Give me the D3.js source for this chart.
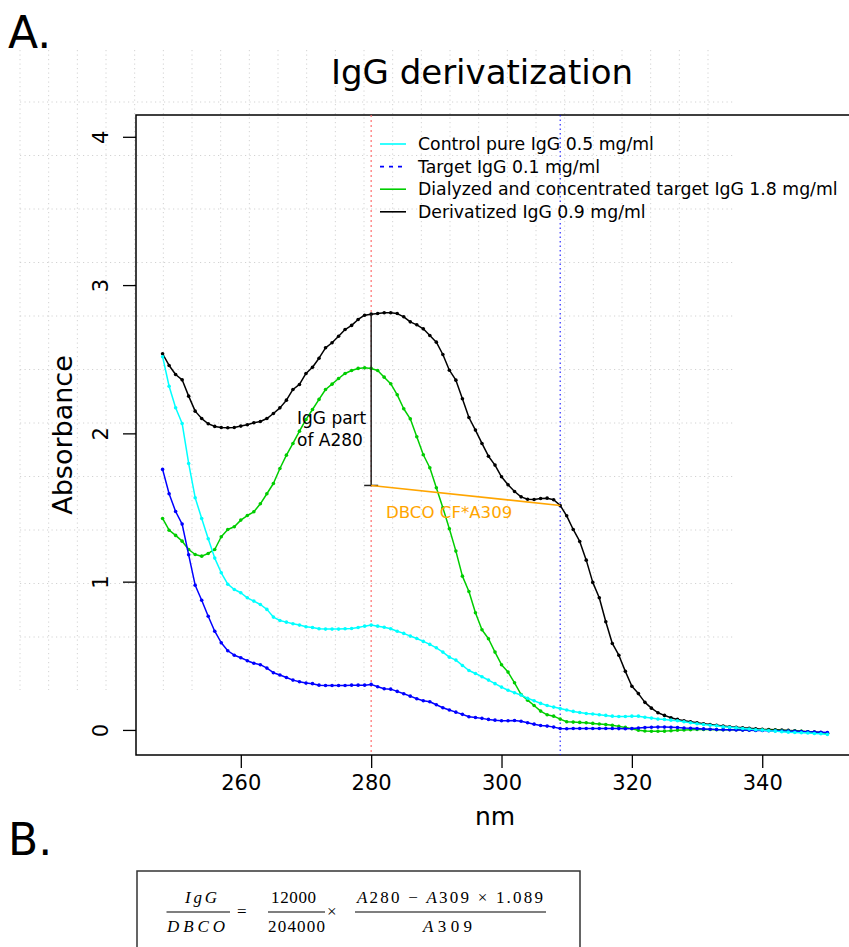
<!DOCTYPE html>
<html><head><meta charset="utf-8">
<script src="https://cdn.jsdelivr.net/npm/d3@7"></script>
<style>
body{margin:0;background:#fff}
svg{display:block}
text{font-family:"DejaVu Sans",sans-serif;fill:#000}
</style>
</head><body><svg id="c" width="849" height="947"></svg>
<script>
// ---------- data ----------
const wavelengths = d3.range(248, 351); // 248..350 nm, 1 nm steps

const controlIgG = [
 2.517, 2.318, 2.173, 2.067, 1.797, 1.566, 1.426, 1.289, 1.159, 1.060,
 0.983, 0.947, 0.925, 0.891, 0.869, 0.846, 0.813, 0.761, 0.738, 0.727,
 0.716, 0.707, 0.696, 0.691, 0.682, 0.680, 0.680, 0.680, 0.682, 0.684,
 0.691, 0.700, 0.707, 0.700, 0.693, 0.682, 0.666, 0.651, 0.633, 0.617,
 0.597, 0.577, 0.554, 0.525, 0.491, 0.471, 0.435, 0.401, 0.381, 0.359,
 0.336, 0.312, 0.289, 0.268, 0.251, 0.235, 0.214, 0.197, 0.179, 0.165,
 0.154, 0.145, 0.134, 0.125, 0.118, 0.111, 0.107, 0.102, 0.098, 0.093,
 0.091, 0.091, 0.093, 0.093, 0.086, 0.080, 0.073, 0.071, 0.066, 0.062,
 0.055, 0.048, 0.042, 0.037, 0.032, 0.028, 0.022, 0.018, 0.014, 0.010,
 0.006, 0.001, -0.001, -0.005, -0.008, -0.012, -0.015, -0.017, -0.019, -0.021,
 -0.024, -0.026, -0.030];

const targetIgG = [
 1.757, 1.593, 1.473, 1.388, 1.181, 0.976, 0.875, 0.767, 0.666, 0.588,
 0.534, 0.504, 0.487, 0.467, 0.450, 0.440, 0.417, 0.386, 0.370, 0.354,
 0.336, 0.325, 0.316, 0.312, 0.302, 0.300, 0.300, 0.300, 0.300, 0.302,
 0.302, 0.302, 0.307, 0.291, 0.278, 0.275, 0.260, 0.244, 0.228, 0.210,
 0.197, 0.190, 0.170, 0.150, 0.134, 0.120, 0.105, 0.089, 0.084, 0.078,
 0.071, 0.066, 0.062, 0.062, 0.064, 0.059, 0.048, 0.039, 0.030, 0.026,
 0.019, 0.010, 0.008, 0.010, 0.010, 0.010, 0.010, 0.010, 0.010, 0.010,
 0.009, 0.008, 0.010, 0.013, 0.016, 0.018, 0.019, 0.019, 0.018, 0.016,
 0.013, 0.011, 0.009, 0.007, 0.005, 0.003, 0.002, 0.001, 0.000, -0.001,
 -0.002, -0.003, -0.004, -0.005, -0.006, -0.007, -0.008, -0.009, -0.011, -0.012,
 -0.014, -0.016, -0.018];

const dialyzedIgG = [
 1.426, 1.347, 1.312, 1.273, 1.217, 1.183, 1.172, 1.190, 1.217, 1.303,
 1.352, 1.370, 1.415, 1.446, 1.471, 1.525, 1.593, 1.662, 1.763, 1.853,
 1.932, 2.015, 2.094, 2.161, 2.229, 2.296, 2.332, 2.370, 2.404, 2.424,
 2.438, 2.442, 2.438, 2.424, 2.379, 2.335, 2.260, 2.166, 2.098, 1.977,
 1.856, 1.768, 1.633, 1.498, 1.357, 1.206, 1.037, 0.934, 0.790, 0.676,
 0.615, 0.525, 0.440, 0.390, 0.318, 0.239, 0.201, 0.165, 0.127, 0.102,
 0.093, 0.073, 0.055, 0.053, 0.051, 0.048, 0.044, 0.040, 0.036, 0.031,
 0.024, 0.017, 0.008, -0.002, -0.007, -0.009, -0.009, -0.008, -0.005, -0.002,
 0.000, 0.002, 0.003, 0.003, 0.003, 0.002, 0.002, 0.001, 0.001, 0.000,
 0.000, -0.001, -0.001, -0.002, -0.003, -0.004, -0.006, -0.008, -0.010, -0.013,
 -0.016, -0.019, -0.022];

const derivatizedIgG = [
 2.537, 2.458, 2.397, 2.361, 2.251, 2.150, 2.100, 2.065, 2.047, 2.040,
 2.038, 2.040, 2.049, 2.058, 2.072, 2.080, 2.100, 2.134, 2.172, 2.224,
 2.296, 2.330, 2.404, 2.446, 2.507, 2.577, 2.611, 2.655, 2.700, 2.728,
 2.768, 2.797, 2.804, 2.808, 2.813, 2.813, 2.808, 2.786, 2.752, 2.732,
 2.705, 2.660, 2.615, 2.532, 2.426, 2.359, 2.233, 2.107, 2.022, 1.932,
 1.846, 1.786, 1.707, 1.653, 1.608, 1.572, 1.556, 1.554, 1.561, 1.563,
 1.552, 1.514, 1.444, 1.352, 1.271, 1.145, 0.995, 0.891, 0.730, 0.583,
 0.504, 0.395, 0.295, 0.245, 0.186, 0.147, 0.116, 0.098, 0.082, 0.071,
 0.062, 0.055, 0.048, 0.042, 0.036, 0.031, 0.026, 0.022, 0.018, 0.014,
 0.011, 0.008, 0.005, 0.003, 0.001, -0.001, -0.003, -0.006, -0.009, -0.012,
 -0.015, -0.018, -0.022];

const seriesNames = [
 "Control pure IgG 0.5 mg/ml",
 "Target IgG 0.1 mg/ml",
 "Dialyzed and concentrated target IgG 1.8 mg/ml",
 "Derivatized IgG 0.9 mg/ml"];
const seriesValues = [controlIgG, targetIgG, dialyzedIgG, derivatizedIgG];
const seriesColors = ["#00FFFF", "#0000FF", "#00CD00", "#000000"];
const legendDash = [null, "4,5", null, null];
const drawOrder = [3, 2, 1, 0];

const xTicks = [260, 280, 300, 320, 340];
const yTicks = [0, 1, 2, 3, 4];
const peakNm = 280, dyeNm = 309;
const dbcoCF = 1.089;

// ---------- setup ----------
const svg = d3.select("#c");
svg.append("rect").attr("width", 849).attr("height", 947).attr("fill", "#fff");

const x = d3.scaleLinear().domain([243.92, 354.08]).range([136, 854]);
const y = d3.scaleLinear().domain([-0.169, 4.147]).range([755, 115]);

// background dotted grid (page decoration)
const gv = d3.scaleLinear().domain([0, 24]).range([20, 708]);
const gh = d3.scaleLinear().domain([0, 10]).range([102, 637]);
const grid = svg.append("g").attr("stroke", "#d2d2d2").attr("stroke-width", 1)
  .attr("stroke-dasharray", "1.2,3.3");
grid.selectAll(".gv").data(d3.range(25)).join("line")
  .attr("x1", d => gv(d)).attr("x2", d => gv(d)).attr("y1", 50).attr("y2", 690);
grid.selectAll(".gh").data(d3.range(11)).join("line")
  .attr("x1", 20).attr("x2", 733).attr("y1", d => gh(d)).attr("y2", d => gh(d));

// panel labels
svg.append("text").attr("x", 8).attr("y", 48).attr("font-size", 44).text("A.");
svg.append("text").attr("x", 8).attr("y", 855).attr("font-size", 44).text("B.");

// title
svg.append("text").attr("x", 482).attr("y", 84).attr("text-anchor", "middle")
  .attr("font-size", 34).text("IgG derivatization");

// plot frame
svg.append("rect").attr("x", 136).attr("y", 115).attr("width", 718).attr("height", 640)
  .attr("fill", "none").attr("stroke", "#000").attr("stroke-width", 1.5);

// axes
const xAxis = svg.append("g").attr("transform", "translate(0,755)")
  .call(d3.axisBottom(x).tickValues(xTicks).tickSize(13).tickPadding(7).tickFormat(d3.format("d")));
xAxis.select(".domain").remove();
xAxis.selectAll("line").attr("stroke-width", 1.3);
xAxis.selectAll("text").attr("font-size", 21).attr("font-family", "DejaVu Sans").attr("fill", "#000");

const yAxis = svg.append("g").attr("transform", "translate(136,0)")
  .call(d3.axisLeft(y).tickValues(yTicks).tickSize(13).tickFormat(d3.format("d")));
yAxis.select(".domain").remove();
yAxis.selectAll("line").attr("stroke-width", 1.3);
yAxis.selectAll("text").attr("font-size", 21).attr("font-family", "DejaVu Sans").attr("fill", "#000")
  .attr("x", null).attr("dy", null).attr("text-anchor", "middle")
  .attr("transform", "translate(-28,0) rotate(-90)");

svg.append("text").attr("x", 495).attr("y", 825).attr("text-anchor", "middle")
  .attr("font-size", 25).text("nm");
svg.append("text").attr("transform", "translate(72,435) rotate(-90)").attr("text-anchor", "middle")
  .attr("font-size", 27).text("Absorbance");

// reference vertical lines
svg.append("line").attr("x1", x(peakNm)).attr("x2", x(peakNm)).attr("y1", 115).attr("y2", 755)
  .attr("stroke", "#ff7070").attr("stroke-width", 1.2).attr("stroke-dasharray", "2,3");
svg.append("line").attr("x1", x(dyeNm)).attr("x2", x(dyeNm)).attr("y1", 115).attr("y2", 755)
  .attr("stroke", "#0000ff").attr("stroke-width", 1).attr("stroke-dasharray", "1.5,3");

// series
const line = d3.line().x((d, i) => x(wavelengths[i])).y(d => y(d));
const plot = svg.append("g");
drawOrder.forEach(k => {
  const g = plot.append("g");
  g.append("path").datum(seriesValues[k]).attr("d", line)
    .attr("fill", "none").attr("stroke", seriesColors[k]).attr("stroke-width", 1.5)
    .attr("stroke-linejoin", "round");
  g.selectAll("circle").data(seriesValues[k]).join("circle")
    .attr("cx", (d, i) => x(wavelengths[i])).attr("cy", d => y(d)).attr("r", 1.8)
    .attr("fill", seriesColors[k]);
});

// annotations
const idx = nm => wavelengths.indexOf(nm);
const a280 = derivatizedIgG[idx(peakNm)];
const a309 = derivatizedIgG[idx(dyeNm)];
const base280 = a309 * dbcoCF;
svg.append("line").attr("x1", x(peakNm)).attr("x2", x(peakNm))
  .attr("y1", y(a280)).attr("y2", y(base280)).attr("stroke", "#222").attr("stroke-width", 1.5);
svg.append("line").attr("x1", x(peakNm) - 7).attr("x2", x(peakNm) + 7)
  .attr("y1", y(base280)).attr("y2", y(base280)).attr("stroke", "#222").attr("stroke-width", 1.5);
svg.append("line").attr("x1", x(peakNm)).attr("x2", x(dyeNm))
  .attr("y1", y(base280)).attr("y2", y(a309)).attr("stroke", "#FFA500").attr("stroke-width", 1.6);

const ann = svg.append("text").attr("font-size", 17).attr("text-anchor", "start");
ann.append("tspan").attr("x", 297).attr("y", 424).text("IgG part");
ann.append("tspan").attr("x", 297).attr("y", 446).text("of A280");
svg.append("text").attr("x", 386).attr("y", 518).attr("font-size", 16.6)
  .attr("fill", "#FFA500").style("fill", "#FFA500").text("DBCO CF*A309");

// legend
const leg = svg.append("g");
seriesNames.forEach((name, i) => {
  const by = 150 + i * 22.6;
  leg.append("line").attr("x1", 380).attr("x2", 406).attr("y1", by - 6).attr("y2", by - 6)
    .attr("stroke", seriesColors[i]).attr("stroke-width", 1.6)
    .attr("stroke-dasharray", legendDash[i]);
  leg.append("text").attr("x", 418).attr("y", by).attr("font-size", 17.3).text(name);
});

// ---------- panel B: formula ----------
svg.append("rect").attr("x", 137).attr("y", 871).attr("width", 443).attr("height", 100)
  .attr("fill", "none").attr("stroke", "#333").attr("stroke-width", 1.5);
const fs = 17;
function ftext(x0, x1, yb, parts) {
  const t = svg.append("text").attr("x", x0).attr("y", yb)
    .attr("font-size", fs).style("font-family", "'Liberation Serif','DejaVu Serif',serif")
    .attr("textLength", x1 - x0).attr("lengthAdjust", "spacing");
  parts.forEach(p => t.append("tspan").attr("font-style", p[1] ? "italic" : "normal").text(p[0]));
}
function fline(x0, x1) {
  svg.append("line").attr("x1", x0).attr("x2", x1).attr("y1", 912).attr("y2", 912)
    .attr("stroke", "#000").attr("stroke-width", 1.2);
}
ftext(185, 217, 903, [["IgG", true]]);
ftext(167, 225, 932, [["DBCO", true]]);
fline(166.5, 230);
ftext(237, 248, 917, [["=", false]]);
ftext(271, 316, 903, [["12000", false]]);
ftext(268, 325, 932, [["204000", false]]);
fline(268, 325);
ftext(327, 337, 917, [["×", false]]);
ftext(357, 543, 903, [["A", true], ["280 − ", false], ["A", true], ["309 × 1.089", false]]);
ftext(423, 472, 932, [["A", true], ["309", false]]);
fline(355, 546);
</script>
</body></html>
